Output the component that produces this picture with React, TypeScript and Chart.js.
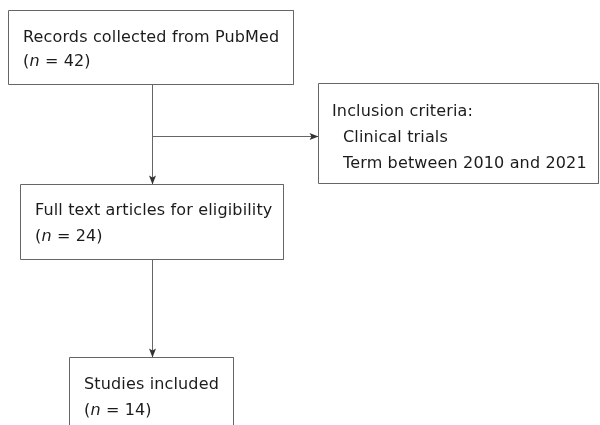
import React, { useEffect, useRef } from "react";
import { Chart, registerables } from "chart.js";

Chart.register(...registerables);

// Flowchart nodes (data units = canvas coordinates, y pointing down)
const boxLeft = [8.5, 318.5, 20.5, 69.5];
const boxRight = [293.5, 598.5, 283.5, 233.5];
const boxTop = [10.5, 83.5, 184.5, 357.5];
const boxBottom = [84.5, 183.5, 259.5, 440];

// Text lines per node ("_" marks italic runs)
const nodeText = [
  ["Records collected from PubMed", "(_n_ = 42)"],
  ["Inclusion criteria:", "Clinical trials", "Term between 2010 and 2021"],
  ["Full text articles for eligibility", "(_n_ = 24)"],
  ["Studies included", "(_n_ = 14)"],
];
const nodeTextX = [
  [23, 23],
  [332, 343, 343],
  [35, 35],
  [84, 84],
];
const nodeTextY = [
  [41.5, 66],
  [115.5, 141.5, 167.5],
  [214.5, 240.5],
  [388.5, 415],
];

// Edges (arrows): from -> to
const edgeFromX = [152.5, 152.5, 152.5];
const edgeFromY = [84.5, 136.5, 259.5];
const edgeToX = [152.5, 318.5, 152.5];
const edgeToY = [184.5, 136.5, 357.5];

const LINE = "#666666";
const TEXT = "#1c1a1a";
const FONT = '"DejaVu Sans", Verdana, sans-serif';

const flowPlugin = {
  id: "flowPlugin",
  afterDatasetsDraw(chart: any) {
    const ctx = chart.ctx as any;
    const xs = chart.scales.x;
    const ys = chart.scales.y;
    ctx.save();
    // arrowheads
    ctx.fillStyle = "#333";
    for (let i = 0; i < edgeToX.length; i++) {
      const x1 = xs.getPixelForValue(edgeFromX[i]);
      const y1 = ys.getPixelForValue(edgeFromY[i]);
      const x2 = xs.getPixelForValue(edgeToX[i]);
      const y2 = ys.getPixelForValue(edgeToY[i]);
      const ang = Math.atan2(y2 - y1, x2 - x1);
      const len = 9;
      const half = 3.5;
      ctx.beginPath();
      ctx.moveTo(x2, y2);
      ctx.lineTo(
        x2 - len * Math.cos(ang) + half * Math.sin(ang),
        y2 - len * Math.sin(ang) - half * Math.cos(ang)
      );
      ctx.lineTo(x2 - (len - 2) * Math.cos(ang), y2 - (len - 2) * Math.sin(ang));
      ctx.lineTo(
        x2 - len * Math.cos(ang) - half * Math.sin(ang),
        y2 - len * Math.sin(ang) + half * Math.cos(ang)
      );
      ctx.closePath();
      ctx.fill();
    }
    // text
    ctx.fillStyle = TEXT;
    ctx.textBaseline = "alphabetic";
    ctx.textAlign = "left";
    ctx.letterSpacing = "0.15px";
    for (let i = 0; i < nodeText.length; i++) {
      for (let j = 0; j < nodeText[i].length; j++) {
        let x = xs.getPixelForValue(nodeTextX[i][j]);
        const y = ys.getPixelForValue(nodeTextY[i][j]);
        const parts = nodeText[i][j].split("_");
        parts.forEach((p: string, k: number) => {
          ctx.font = (k % 2 === 1 ? "italic " : "") + "16px " + FONT;
          ctx.fillText(p, x, y);
          x += ctx.measureText(p).width;
        });
      }
    }
    ctx.restore();
  },
};

export default function App() {
  const ref = useRef<HTMLCanvasElement>(null);
  useEffect(() => {
    if (!ref.current) return;
    const datasets: any[] = [];
    for (let i = 0; i < boxLeft.length; i++) {
      datasets.push({
        data: [
          { x: boxLeft[i], y: boxBottom[i] },
          { x: boxLeft[i], y: boxTop[i] },
          { x: boxRight[i], y: boxTop[i] },
          { x: boxRight[i], y: boxBottom[i] },
          { x: boxLeft[i], y: boxBottom[i] },
        ],
      });
    }
    for (let i = 0; i < edgeToX.length; i++) {
      datasets.push({
        data: [
          { x: edgeFromX[i], y: edgeFromY[i] },
          { x: edgeToX[i], y: edgeToY[i] },
        ],
      });
    }
    datasets.forEach((d) => {
      d.showLine = true;
      d.borderColor = LINE;
      d.borderWidth = 1;
      d.pointRadius = 0;
      d.tension = 0;
      d.fill = false;
    });
    const chart = new Chart(ref.current, {
      type: "scatter",
      data: { datasets },
      options: {
        responsive: false,
        maintainAspectRatio: false,
        devicePixelRatio: 1,
        animation: false,
        events: [],
        layout: { padding: 0 },
        plugins: { legend: { display: false }, tooltip: { enabled: false } },
        scales: {
          x: { type: "linear", min: 0, max: 600, display: false },
          y: { type: "linear", min: 0, max: 425, reverse: true, display: false },
        },
      },
      plugins: [flowPlugin],
    });
    return () => chart.destroy();
  }, []);
  return (
    <div
      style={{
        position: "absolute",
        left: 0,
        top: 0,
        width: 600,
        height: 425,
        background: "#fff",
      }}
    >
      <canvas ref={ref} width={600} height={425} style={{ display: "block" }} />
    </div>
  );
}
